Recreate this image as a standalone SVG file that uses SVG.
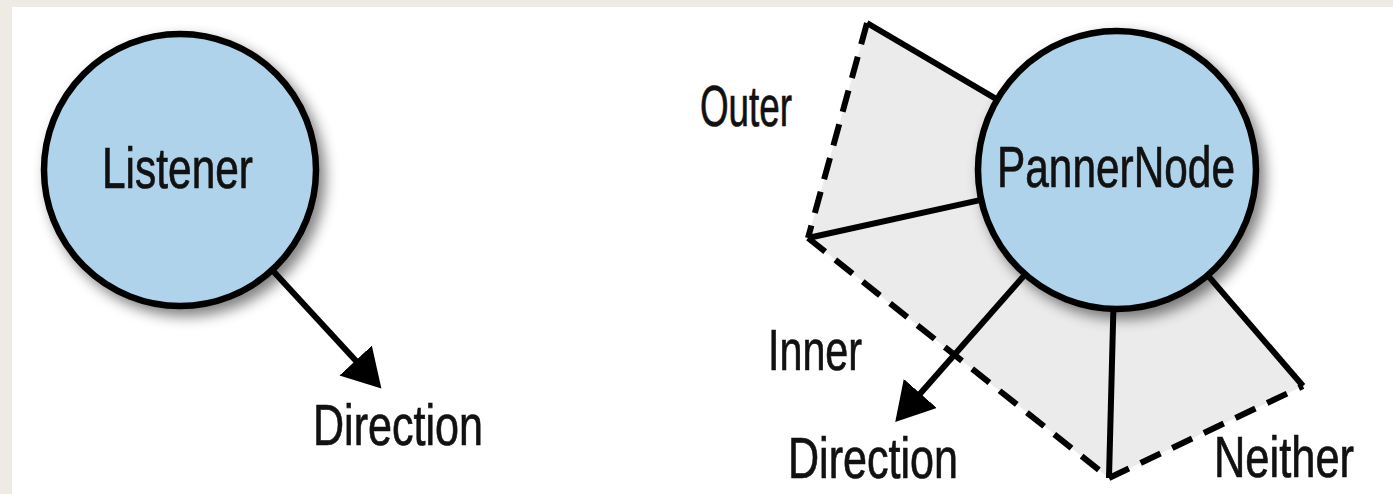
<svg xmlns="http://www.w3.org/2000/svg" width="1393" height="494" viewBox="0 0 1393 494">
  <style>
    .bg { fill: #eeebe4; }
    .panel { fill: #ffffff; }
    .node { fill: #afd3ea; stroke: #000; stroke-width: 6.5; }
    .lbl { font-family: "Liberation Sans", Arial, sans-serif; font-size: 57px; fill: #111; stroke: #111; stroke-width: 0.7; }
    .solid { stroke: #000; stroke-width: 6; fill: none; stroke-linecap: butt; }
    .dash { stroke: #000; stroke-width: 6; fill: none; stroke-dasharray: 22 13; }
    .cone { fill: #ebebeb; }
  </style>
  <defs>
    <marker id="arrow" markerUnits="userSpaceOnUse" markerWidth="42" markerHeight="46" refX="2" refY="22" orient="auto" viewBox="0 0 42 46">
      <path d="M0,0 L38,22 L0,44 z" fill="#000"/>
    </marker>
    <filter id="shadow" x="-20%" y="-20%" width="150%" height="150%">
      <feGaussianBlur in="SourceAlpha" stdDeviation="7"/>
      <feOffset dx="6" dy="7" result="b"/>
      <feComponentTransfer><feFuncA type="linear" slope="0.5"/></feComponentTransfer>
      <feMerge><feMergeNode/><feMergeNode in="SourceGraphic"/></feMerge>
    </filter>
  </defs>

  <rect class="bg" x="0" y="0" width="1393" height="494"/>
  <rect class="panel" x="12" y="7" width="1381" height="487"/>

  <g id="cone">
    <polygon class="cone" points="867,23 1117,170 1303,386 1109,478 808,238"/>
    <line class="dash" x1="867" y1="23" x2="808" y2="238"/>
    <line class="dash" x1="808" y1="238" x2="1109" y2="478"/>
    <line class="dash" x1="1109" y1="478" x2="1303" y2="386"/>
    <text class="lbl" x="700" y="126" textLength="92" lengthAdjust="spacingAndGlyphs">Outer</text>
    <text class="lbl" x="768" y="370" textLength="94" lengthAdjust="spacingAndGlyphs">Inner</text>
    <text class="lbl" x="1214" y="477" font-size="52" textLength="140" lengthAdjust="spacingAndGlyphs">Neither</text>
  </g>

  <g id="connectors">
    <polyline class="solid" points="1117,170 867,23"/>
    <polyline class="solid" points="1117,170 808,238"/>
    <polyline class="solid" points="1117,170 1109,478"/>
    <polyline class="solid" points="1117,170 1303,386"/>
    <line class="solid" x1="180" y1="170" x2="357" y2="362" marker-end="url(#arrow)"/>
    <line class="solid" x1="1117" y1="170" x2="919" y2="395" marker-end="url(#arrow)"/>
  </g>

  <g id="listener">
    <circle class="node" cx="180" cy="170" r="136" filter="url(#shadow)"/>
    <text class="lbl" x="102" y="188" textLength="151" lengthAdjust="spacingAndGlyphs">Listener</text>
  </g>
  <g id="listener-direction">
    <text class="lbl" x="313" y="445" textLength="170" lengthAdjust="spacingAndGlyphs">Direction</text>
  </g>

  <g id="pannernode">
    <circle class="node" cx="1117" cy="170" r="139" filter="url(#shadow)"/>
    <text class="lbl" x="997" y="187" textLength="238" lengthAdjust="spacingAndGlyphs">PannerNode</text>
  </g>
  <g id="panner-direction">
    <text class="lbl" x="788" y="478" textLength="170" lengthAdjust="spacingAndGlyphs">Direction</text>
  </g>
</svg>
